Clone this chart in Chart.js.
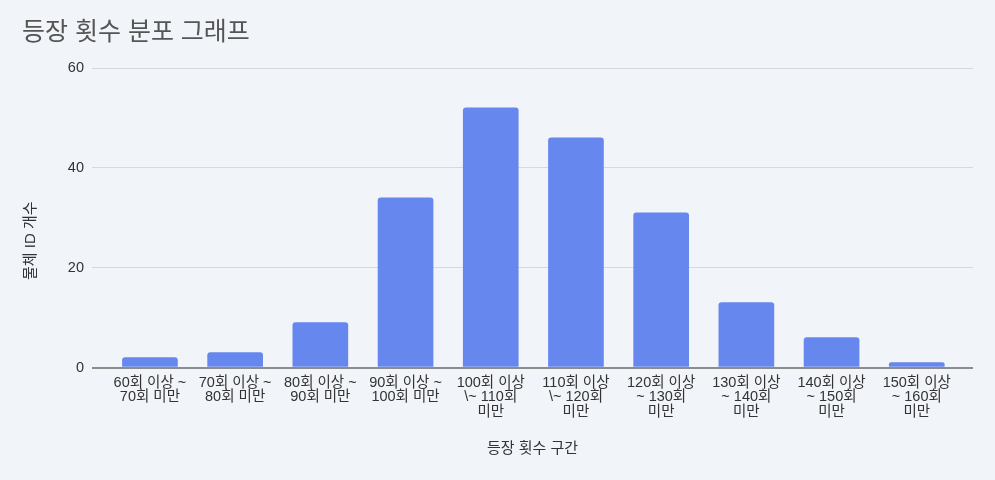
<!DOCTYPE html>
<html>
<head>
<meta charset="utf-8">
<script src="https://cdn.jsdelivr.net/npm/chart.js@4/dist/chart.umd.min.js"></script>
<style>
  html, body { margin: 0; padding: 0; background: #f1f4f9; }
  #wrap { width: 995px; height: 480px; }
</style>
</head>
<body>
<div id="wrap"><canvas id="chart"></canvas></div>
<script>
// 등장 횟수 구간별 물체 ID 개수
const categories = [
  ['60회 이상 ~', '70회 미만'],
  ['70회 이상 ~', '80회 미만'],
  ['80회 이상 ~', '90회 미만'],
  ['90회 이상 ~', '100회 미만'],
  ['100회 이상', '\\~ 110회', '미만'],
  ['110회 이상', '\\~ 120회', '미만'],
  ['120회 이상', '~ 130회', '미만'],
  ['130회 이상', '~ 140회', '미만'],
  ['140회 이상', '~ 150회', '미만'],
  ['150회 이상', '~ 160회', '미만']
];
const counts = [2, 3, 9, 34, 52, 46, 31, 13, 6, 1];
const yTicks = [0, 20, 40, 60];

const FONT = '"Liberation Sans", Arial, "Noto Sans CJK KR", sans-serif';

const points = counts.map((v, i) => ({ x: i, y: v }));

new Chart(document.getElementById('chart'), {
  type: 'bar',
  data: {
    datasets: [{
      label: '물체 ID 개수',
      data: points,
      backgroundColor: '#6687ee',
      borderRadius: 3,
      borderSkipped: 'bottom',
      barThickness: 55
    }]
  },
  options: {
    responsive: true,
    maintainAspectRatio: false,
    animation: false,
    layout: { padding: { left: 22, right: 22, top: 0, bottom: 22 } },
    plugins: {
      legend: { display: false },
      tooltip: { enabled: false },
      title: {
        display: true,
        text: '등장 횟수 분포 그래프',
        align: 'start',
        color: '#555555',
        font: { family: FONT, size: 25, weight: 'normal' },
        padding: { top: 18, bottom: 20 }
      }
    },
    scales: {
      x: {
        type: 'linear',
        bounds: 'data',
        offset: false,
        min: -0.68,
        max: 9.66,
        grid: { display: false },
        border: { display: false },
        afterBuildTicks: (axis) => {
          axis.ticks = categories.map((c, i) => ({ value: i }));
        },
        ticks: {
          autoSkip: false,
          maxRotation: 0,
          padding: 0,
          color: '#333333',
          font: { family: FONT, size: 14.5, lineHeight: '14.5px' },
          callback: (v) => categories[v]
        },
        title: {
          display: true,
          text: '등장 횟수 구간',
          color: '#333333',
          font: { family: FONT, size: 15 },
          padding: { top: 21, bottom: 0 }
        }
      },
      y: {
        min: 0,
        max: 60,
        afterFit: (axis) => { axis.width = 70; },
        afterBuildTicks: (axis) => {
          axis.ticks = yTicks.map(v => ({ value: v }));
        },
        grid: {
          drawTicks: false,
          color: (ctx) => ctx.tick && ctx.tick.value === 0 ? '#8c8c8c' : '#d5d8de',
          lineWidth: (ctx) => ctx.tick && ctx.tick.value === 0 ? 2 : 1
        },
        border: { display: false },
        ticks: {
          padding: 8,
          color: '#333333',
          font: { family: FONT, size: 14.5 }
        },
        title: {
          display: true,
          // trailing spaces push the rotated text down toward the page centre
          text: '물체 ID 개수' + '\u00a0'.repeat(11),
          color: '#333333',
          font: { family: FONT, size: 15 },
          padding: { top: 0, bottom: 0 }
        }
      }
    }
  }
});
</script>
</body>
</html>
